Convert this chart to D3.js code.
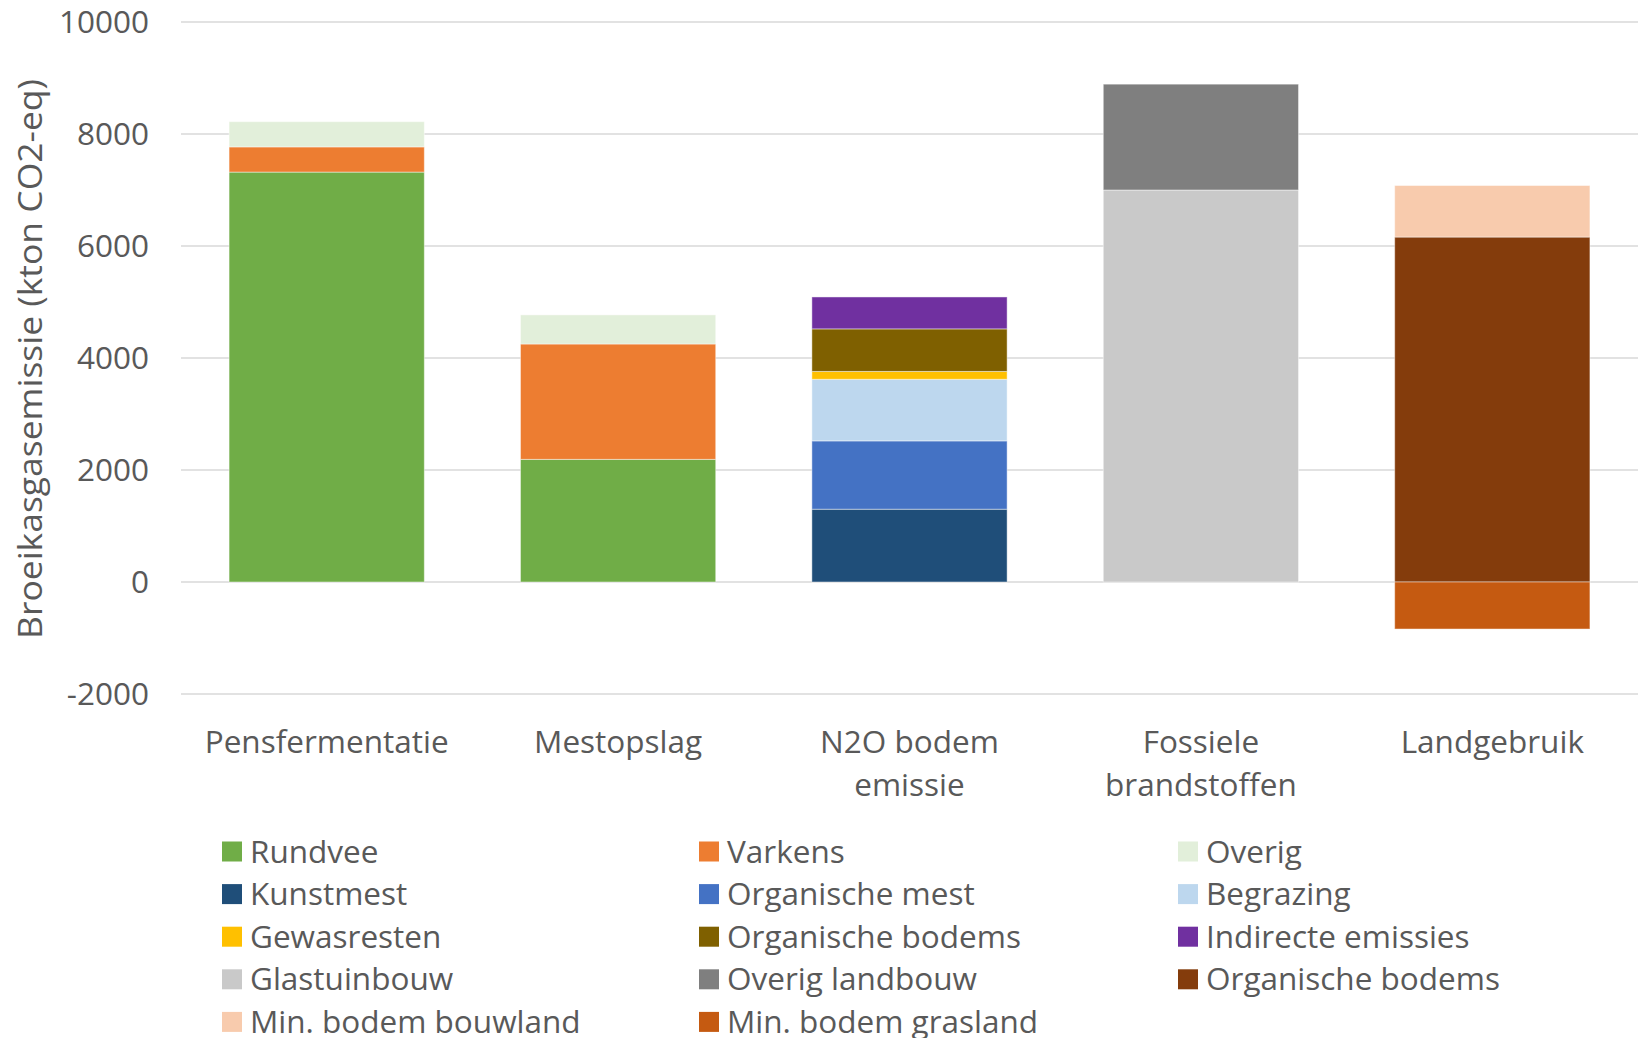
<!DOCTYPE html>
<html>
<head>
<meta charset="utf-8">
<script src="https://cdn.jsdelivr.net/npm/d3@7"></script>
<style>
  html, body { margin: 0; padding: 0; background: #fff; }
  svg { display: block; }
  text { font-family: "Open Sans", "Liberation Sans", sans-serif; fill: #595959; }
</style>
</head>
<body>
<svg id="chart" width="1638" height="1038"></svg>
<script>
// Emission sources (x categories); multi-line labels split on "\n"
const categories = ["Pensfermentatie", "Mestopslag", "N2O bodem\nemissie", "Fossiele\nbrandstoffen", "Landgebruik"];

// One series per emission component, values in kton CO2-eq per category
const seriesNames = [
  "Rundvee", "Varkens", "Overig",
  "Kunstmest", "Organische mest", "Begrazing",
  "Gewasresten", "Organische bodems", "Indirecte emissies",
  "Glastuinbouw", "Overig landbouw", "Organische bodems ",
  "Min. bodem bouwland", "Min. bodem grasland"
];
const rundvee            = [7320, 2190,    0,    0,    0];
const varkens            = [ 450, 2060,    0,    0,    0];
const overig             = [ 450,  520,    0,    0,    0];
const kunstmest          = [   0,    0, 1300,    0,    0];
const organischeMest     = [   0,    0, 1220,    0,    0];
const begrazing          = [   0,    0, 1100,    0,    0];
const gewasresten        = [   0,    0,  140,    0,    0];
const organischeBodemsN2O= [   0,    0,  760,    0,    0];
const indirecteEmissies  = [   0,    0,  570,    0,    0];
const glastuinbouw       = [   0,    0,    0, 7000,    0];
const overigLandbouw     = [   0,    0,    0, 1890,    0];
const organischeBodemsLG = [   0,    0,    0,    0, 6160];
const minBodemBouwland   = [   0,    0,    0,    0,  920];
const minBodemGrasland   = [   0,    0,    0,    0, -840];

const seriesValues = [
  rundvee, varkens, overig,
  kunstmest, organischeMest, begrazing,
  gewasresten, organischeBodemsN2O, indirecteEmissies,
  glastuinbouw, overigLandbouw, organischeBodemsLG,
  minBodemBouwland, minBodemGrasland
];
const seriesColors = [
  "#70AD47", "#ED7D31", "#E2EFDA",
  "#1F4E79", "#4472C4", "#BDD7EE",
  "#FFC000", "#7F6000", "#7030A0",
  "#C9C9C9", "#7F7F7F", "#843C0C",
  "#F8CBAD", "#C55A11"
];

const yTicks = [-2000, 0, 2000, 4000, 6000, 8000, 10000];
const yTickLabels = ["-2000", "0", "2000", "4000", "6000", "8000", "10000"];

// Build a table for d3.stack: one row per category
const table = categories.map((c, i) => {
  const row = { category: c };
  seriesNames.forEach((s, j) => { row[s] = seriesValues[j][i]; });
  return row;
});

const svg = d3.select("#chart");
const plot = { left: 181, right: 1638, top: 22, bottom: 694 };

const x = d3.scaleBand()
  .domain(categories)
  .range([plot.left, plot.right])
  .paddingInner(0.33)
  .paddingOuter(0.165);

const y = d3.scaleLinear()
  .domain([-2000, 10000])
  .range([plot.bottom, plot.top]);

// Gridlines
svg.append("g")
  .selectAll("line")
  .data(yTicks)
  .join("line")
  .attr("x1", plot.left)
  .attr("x2", plot.right)
  .attr("y1", d => y(d))
  .attr("y2", d => y(d))
  .attr("stroke", "#d9d9d9")
  .attr("stroke-width", 1.5);

// Y axis tick labels (plain hyphen for negatives)
const yAxis = d3.axisLeft(y)
  .tickValues(yTicks)
  .tickSize(0)
  .tickPadding(0)
  .tickFormat((d, i) => yTickLabels[i]);
svg.append("g")
  .attr("transform", `translate(${plot.left - 32},0)`)
  .call(yAxis)
  .call(g => g.select(".domain").remove())
  .selectAll("text")
  .attr("font-size", 31.5)
  .attr("font-family", "'Open Sans', sans-serif")
  .attr("fill", "#595959");

// Stacked bars (diverging so negative parts go below zero)
const stack = d3.stack()
  .keys(seriesNames)
  .offset(d3.stackOffsetDiverging);
const stacked = stack(table);

svg.append("g")
  .selectAll("g")
  .data(stacked)
  .join("g")
  .attr("fill", (d, i) => seriesColors[i])
  .selectAll("rect")
  .data(d => d.filter(p => p[1] !== p[0]))
  .join("rect")
  .attr("x", d => x(d.data.category))
  .attr("width", x.bandwidth())
  .attr("y", d => y(Math.max(d[0], d[1])))
  .attr("height", d => Math.abs(y(d[0]) - y(d[1])))
  .attr("stroke", "rgba(255,255,255,0.45)")
  .attr("stroke-width", 1);

// Category labels
const xl = svg.append("g");
categories.forEach(c => {
  const lines = c.split("\n");
  const t = xl.append("text")
    .attr("x", x(c) + x.bandwidth() / 2)
    .attr("y", 753)
    .attr("text-anchor", "middle")
    .attr("font-size", 31.5);
  lines.forEach((ln, k) => {
    t.append("tspan")
      .attr("x", x(c) + x.bandwidth() / 2)
      .attr("dy", k === 0 ? 0 : 42.8)
      .text(ln);
  });
});

// Y axis title
svg.append("text")
  .attr("transform", "translate(42,359) rotate(-90)")
  .attr("text-anchor", "middle")
  .attr("font-size", 33)
  .attr("textLength", 560)
  .attr("lengthAdjust", "spacingAndGlyphs")
  .text("Broeikasgasemissie (kton CO2-eq)");

// Legend: 3 columns, row-major
const legendCols = [222, 699, 1178];
const legendTop = 851.5;
const legendRow = 42.6;
const legend = svg.append("g");
seriesNames.forEach((s, i) => {
  const col = i % 3, row = Math.floor(i / 3);
  const gx = legendCols[col], gy = legendTop + row * legendRow;
  legend.append("rect")
    .attr("x", gx)
    .attr("y", gy - 10)
    .attr("width", 20)
    .attr("height", 20)
    .attr("fill", seriesColors[i]);
  legend.append("text")
    .attr("x", gx + 28)
    .attr("y", gy + 11)
    .attr("font-size", 31.5)
    .text(s.trim());
});
</script>
</body>
</html>
